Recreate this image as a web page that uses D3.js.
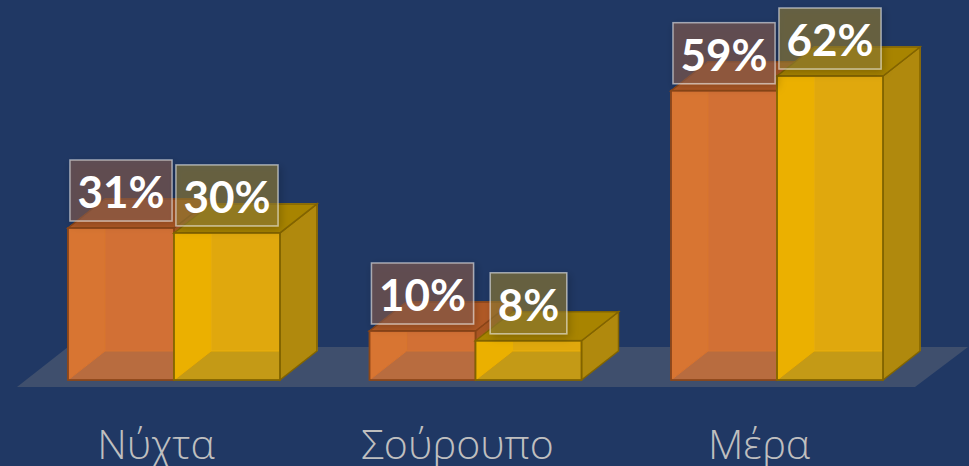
<!DOCTYPE html>
<html>
<head>
<meta charset="utf-8">
<script src="https://cdn.jsdelivr.net/npm/d3@7/dist/d3.min.js"></script>
<style>
  html, body { margin: 0; padding: 0; background: #203864; }
  svg { display: block; }
</style>
</head>
<body>
<svg id="chart" width="969" height="466"></svg>
<script>
// data
var categories = ["Νύχτα", "Σούρουπο", "Μέρα"];
var seriesNames = ["a", "b"];
var valuesA = [31, 10, 59];
var valuesB = [30, 8, 62];
var labelsA = ["31%", "10%", "59%"];
var labelsB = ["30%", "8%", "62%"];

var W = 969, H = 466;
var depth = { dx: 37, dy: -29 };

// colours per series: front, back, left (lighter), top, side, stroke
var palette = {
  a: { front: "rgb(214,115,51)", back: "rgb(195,100,55)", left: "rgb(225,120,35)",
       top: "rgb(178,90,40)", side: "rgb(170,86,36)", stroke: "rgb(140,70,25)" },
  b: { front: "rgb(230,172,8)", back: "rgb(200,150,30)", left: "rgb(255,190,0)",
       top: "rgb(168,132,6)", side: "rgb(176,137,10)", stroke: "rgb(130,100,0)" }
};

var svg = d3.select("#chart");

var defs = svg.append("defs");
var shadow = defs.append("filter").attr("id", "shadow")
  .attr("x", "-30%").attr("y", "-30%").attr("width", "160%").attr("height", "160%");
shadow.append("feDropShadow").attr("dx", 2).attr("dy", 3)
  .attr("stdDeviation", 4).attr("flood-color", "#000").attr("flood-opacity", 0.35);
var soft = defs.append("filter").attr("id", "soft");
soft.append("feGaussianBlur").attr("stdDeviation", 0.6);

var x = d3.scaleBand().domain(categories).range([68, 883])
  .paddingInner(0.297).paddingOuter(0);
var xs = d3.scaleBand().domain(seriesNames).range([0, x.bandwidth()]).padding(0);
var y = d3.scaleLinear().domain([0, 62]).range([380, 76]);

// floor
var fx0 = x.range()[0] - 51, fx1 = x.range()[1] + 32, fy = y(0) + 7;
svg.append("polygon")
  .attr("points", [[fx0, fy], [fx1, fy], [fx1 + 53, fy - 40], [fx0 + 51, fy - 40]].join(" "))
  .attr("fill", "#808080").attr("opacity", 0.32).attr("filter", "url(#soft)");

var rows = [];
categories.forEach(function(c, i) {
  rows.push({ cat: c, s: "a", v: valuesA[i], label: labelsA[i] });
  rows.push({ cat: c, s: "b", v: valuesB[i], label: labelsB[i] });
});

function pts(a) { return a.map(function(p) { return p.join(","); }).join(" "); }

var bars = svg.append("g").attr("class", "bars");
rows.forEach(function(d) {
  var x0 = x(d.cat) + xs(d.s), x1 = x0 + xs.bandwidth();
  var yt = y(d.v), yb = y(0);
  var dx = depth.dx, dy = depth.dy;
  var col = palette[d.s];
  var g = bars.append("g").attr("filter", "url(#soft)");

  // hidden faces, seen through the translucent front
  g.append("polygon").attr("points", pts([[x0, yb], [x0 + dx, yb + dy], [x0 + dx, yt + dy], [x0, yt]]))
    .attr("fill", col.left).attr("stroke", col.left).attr("stroke-width", 1);
  g.append("polygon").attr("points", pts([[x0 + dx, yb + dy], [x1 + dx, yb + dy], [x1 + dx, yt + dy], [x0 + dx, yt + dy]]))
    .attr("fill", col.back).attr("stroke", col.left).attr("stroke-width", 1);

  // right side
  g.append("polygon").attr("points", pts([[x1, yb], [x1 + dx, yb + dy], [x1 + dx, yt + dy], [x1, yt]]))
    .attr("fill", col.side).attr("stroke", col.stroke).attr("stroke-width", 1.5);
  // top
  g.append("polygon").attr("points", pts([[x0, yt], [x1, yt], [x1 + dx, yt + dy], [x0 + dx, yt + dy]]))
    .attr("fill", col.top).attr("stroke", col.stroke).attr("stroke-width", 1.5);
  // front
  g.append("rect").attr("x", x0).attr("y", yt).attr("width", x1 - x0).attr("height", yb - yt)
    .attr("fill", col.front).attr("fill-opacity", 0.8)
    .attr("stroke", col.stroke).attr("stroke-width", 1.8);
});

// value boxes
var boxes = svg.append("g").attr("class", "values");
rows.forEach(function(d) {
  var cx = x(d.cat) + xs(d.s) + xs.bandwidth() / 2;
  var bottom = y(d.v) - 7;
  var g = boxes.append("g");
  var rect = g.append("rect");
  var t = g.append("text")
    .attr("x", cx).attr("y", bottom - 13)
    .attr("text-anchor", "middle")
    .attr("font-family", "Lato, 'Open Sans', sans-serif")
    .attr("font-weight", 700).attr("font-size", 44)
    .attr("fill", "#fff")
    .text(d.label);
  var w = t.node().getComputedTextLength() + 15;
  var boxFill = d.s === "a" ? "rgb(134,91,75)" : "rgb(143,124,50)";
  rect.attr("x", cx - w / 2).attr("y", bottom - 61).attr("width", w).attr("height", 61)
    .attr("fill", boxFill).attr("fill-opacity", 0.6)
    .attr("stroke", "rgba(235,235,235,0.6)").attr("stroke-width", 1.5)
    .attr("filter", "url(#shadow)");
});

// category labels
svg.append("g").selectAll("text").data(categories).join("text")
  .attr("x", function(d) { return x(d) + x.bandwidth() / 2 - 18; })
  .attr("y", 459)
  .attr("text-anchor", "middle")
  .attr("font-family", "'Open Sans', 'Noto Sans', sans-serif")
  .attr("font-weight", 300).attr("font-size", 41)
  .attr("fill", "#bfbfbf")
  .text(function(d) { return d; });
</script>
</body>
</html>
